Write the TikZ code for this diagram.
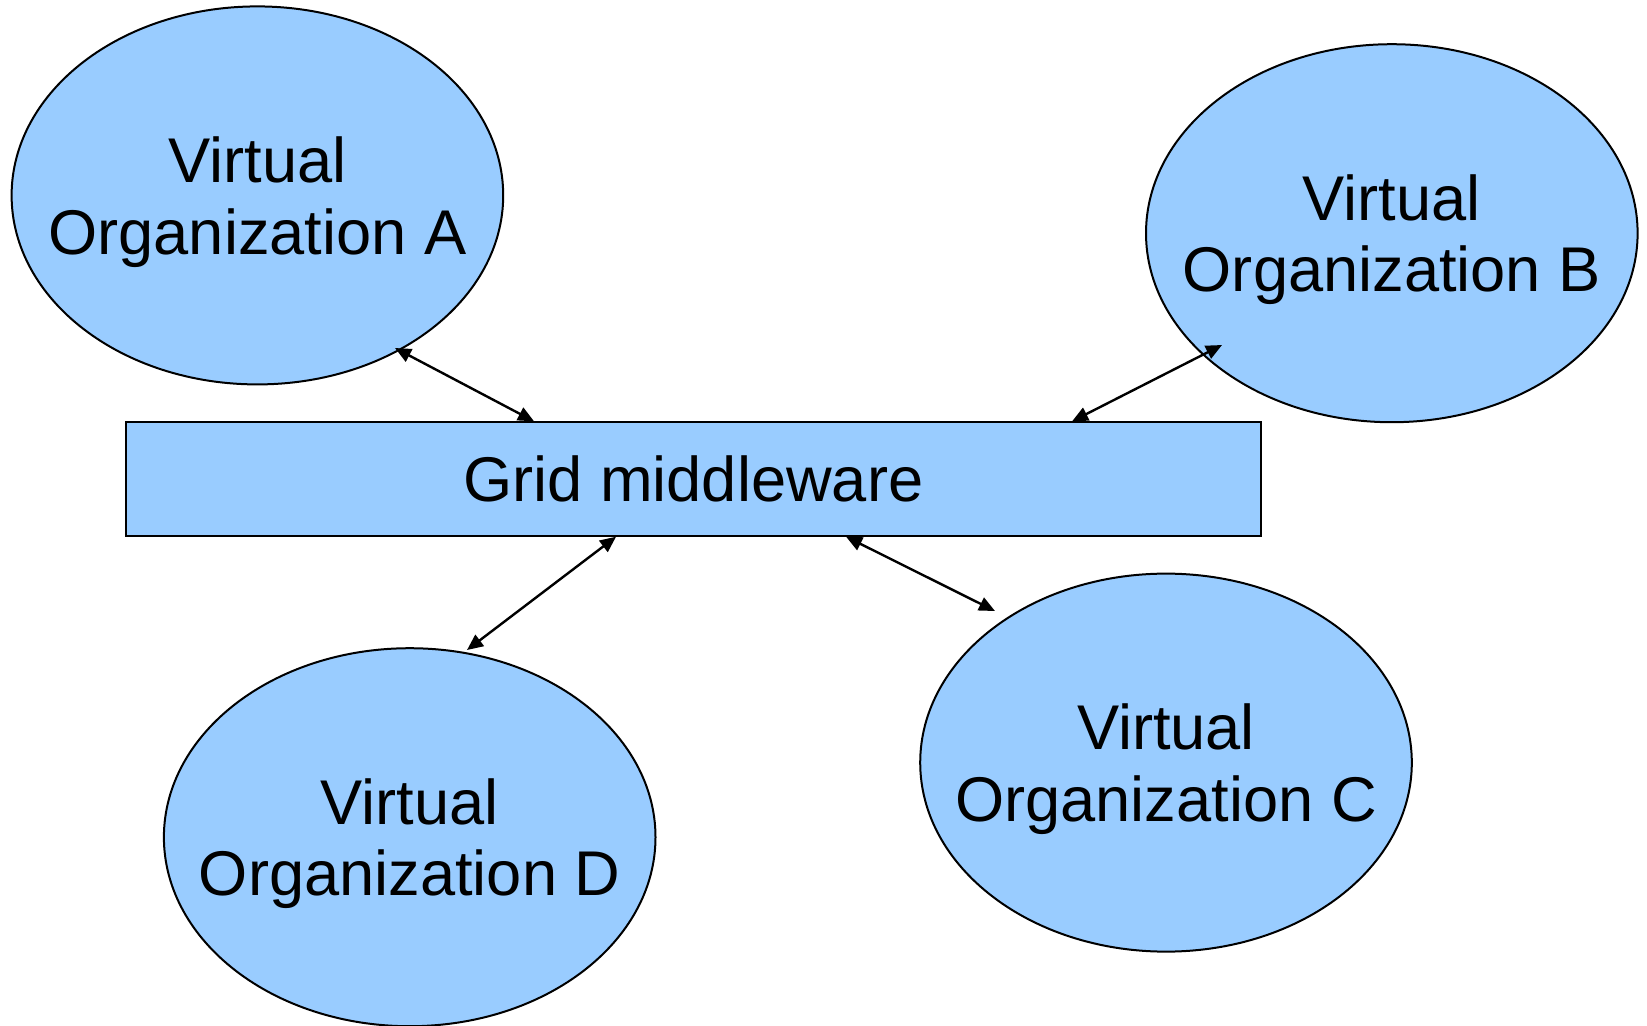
\documentclass[tikz,border=0pt]{standalone}
\usepackage{fontspec}
\setmainfont{Liberation Sans}
\usetikzlibrary{shapes.geometric,arrows.meta,calc}
\definecolor{voblue}{RGB}{153,204,255}
\begin{document}
\begin{tikzpicture}[x=0.5pt,y=-0.5pt,
  labelfont/.style={font=\fontsize{31.6}{35.7}\selectfont},
  vo/.style={ellipse,draw=black,line width=1pt,fill=voblue,
    minimum width=245.8pt,minimum height=189pt,inner sep=0pt},
  volabel/.style={align=center,labelfont,text depth=0pt,inner sep=0pt},
  mwbox/.style={rectangle,draw=black,line width=1pt,fill=voblue,
    minimum width=567.25pt,minimum height=56.7pt,inner sep=0pt,
    labelfont,text depth=0pt},
  link/.style={line width=1.2pt,
    {Triangle[length=8pt,width=7pt]}-{Triangle[length=8pt,width=7pt]}}]
  \useasboundingbox (0,0) rectangle (1647,1025);

  % virtual organizations
  \node[vo] (voA) at (257.4,195.4) {};
  \node[vo] (voB) at (1391.8,233.2) {};
  \node[vo] (voC) at (1166,762.6) {};
  \node[vo] (voD) at (409.7,837.2) {};
  \node[volabel] (voAtext) at (voA.center) {Virtual\\Organization A};
  \node[volabel] (voBtext) at (voB.center) {Virtual\\Organization B};
  \node[volabel] (voCtext) at (voC.center) {Virtual\\Organization C};
  \node[volabel] (voDtext) at (voD.center) {Virtual\\Organization D};

  % shared middleware layer
  \node[mwbox] (mw) at (693.3,479) {Grid middleware};

  % two-way links between the organizations and the middleware
  \draw[link] ($(voA.center)+(137.6,152.6)$) -- ($(mw.north west)+(409,0)$);
  \draw[link] ($(voB.center)+(-169.8,111.8)$) -- ($(mw.north west)+(947,0)$);
  \draw[link] ($(mw.south west)+(491,0)$) -- ($(voD.center)+(57.3,-187.2)$);
  \draw[link] ($(mw.south west)+(721,0)$) -- ($(voC.center)+(-171,-151.6)$);
\end{tikzpicture}
\end{document}
